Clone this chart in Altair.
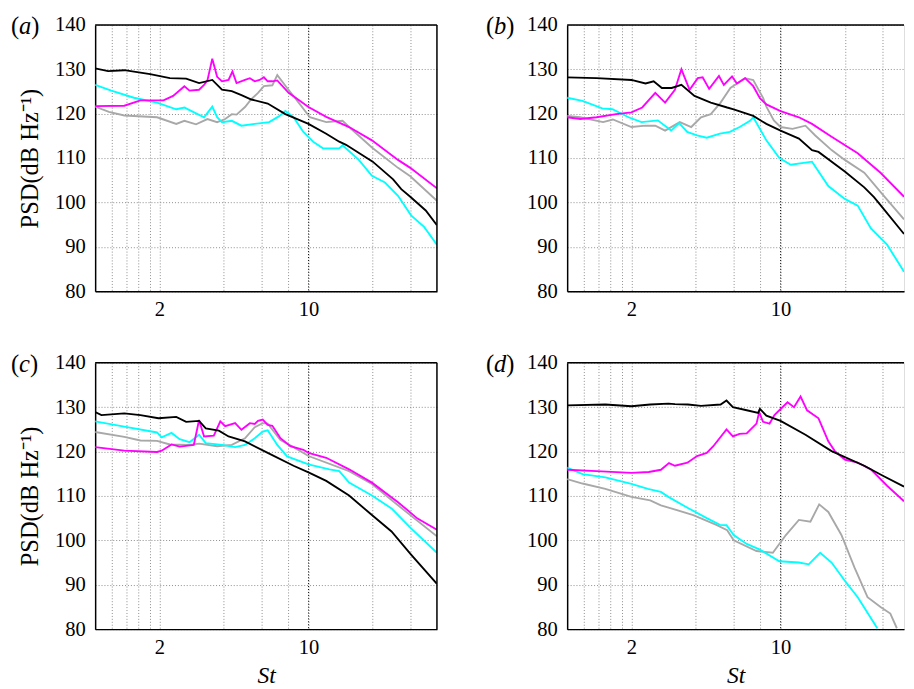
import altair as alt
import pandas as pd

# ---------------- data (St, PSD in dB/Hz) ----------------
# panel (a)
a_black_st = [1.0, 1.15, 1.37, 1.81, 2.24, 2.67, 3.07, 3.54, 3.93, 4.37, 4.85, 5.4, 6.44, 7.79, 10.0, 12.11, 13.94, 15.0, 20.0, 24.93, 27.22, 30.0, 35.45, 40.0]
a_black_psd = [130.2, 129.6, 129.8, 128.9, 128.0, 127.9, 126.9, 127.6, 125.4, 125.1, 124.2, 123.2, 122.3, 119.9, 117.7, 115.5, 113.7, 113.0, 109.2, 105.2, 103.0, 101.3, 98.2, 94.9]
a_magenta_st = [1.0, 1.37, 1.63, 2.09, 2.32, 2.62, 2.77, 3.07, 3.24, 3.36, 3.54, 3.73, 3.93, 4.22, 4.4, 4.6, 5.04, 5.31, 5.6, 5.9, 6.18, 6.44, 6.77, 7.14, 8.07, 10.0, 12.11, 15.5, 19.83, 26.28, 30.0, 40.0]
a_magenta_psd = [121.7, 121.8, 123.0, 123.0, 124.0, 126.2, 125.2, 125.4, 126.5, 127.5, 132.4, 128.3, 127.3, 127.6, 129.5, 126.9, 127.6, 128.0, 127.3, 127.6, 128.2, 127.3, 127.3, 127.5, 124.7, 121.5, 119.3, 117.0, 114.0, 109.6, 107.8, 103.2]
a_cyan_st = [1.0, 1.19, 1.52, 1.95, 2.4, 2.62, 2.77, 3.24, 3.54, 3.73, 3.93, 4.37, 4.85, 5.6, 6.54, 7.26, 7.79, 8.51, 9.46, 10.52, 11.69, 13.94, 14.44, 17.22, 19.83, 22.83, 26.28, 30.26, 34.83, 40.0]
a_cyan_psd = [126.5, 125.2, 123.6, 122.5, 121.0, 121.4, 120.8, 119.2, 121.6, 119.2, 118.1, 118.4, 117.3, 117.7, 118.1, 119.4, 120.6, 119.2, 115.9, 113.7, 112.2, 112.2, 112.9, 109.6, 106.0, 104.5, 101.5, 97.1, 94.5, 90.5]
a_gray_st = [1.0, 1.16, 1.37, 1.95, 2.4, 2.62, 2.97, 3.36, 3.73, 4.07, 4.37, 4.6, 5.04, 5.38, 5.8, 6.18, 6.77, 7.14, 7.94, 9.13, 10.15, 12.11, 14.44, 15.5, 19.83, 26.28, 30.0, 40.0]
a_gray_psd = [121.6, 120.4, 119.6, 119.2, 117.7, 118.4, 117.6, 118.8, 118.1, 118.8, 119.9, 119.8, 121.5, 123.2, 124.7, 126.2, 126.4, 128.7, 125.8, 122.1, 119.2, 118.1, 118.4, 117.0, 112.4, 107.8, 105.9, 100.4]

# panel (b)
b_black_st = [1.0, 1.373, 2.0, 2.329, 2.543, 2.778, 3.087, 3.43, 3.95, 4.71, 5.62, 6.03, 7.45, 8.58, 10.0, 12.19, 14.04, 15.06, 20.0, 24.67, 27.4, 30.0, 37.9]
b_black_psd = [128.2, 128.0, 127.6, 126.8, 127.3, 125.8, 125.8, 126.5, 124.0, 122.5, 121.4, 121.0, 119.5, 117.7, 116.2, 114.4, 111.8, 111.4, 107.0, 103.4, 101.2, 98.9, 92.9]
b_magenta_st = [1.0, 1.151, 1.373, 1.696, 2.0, 2.248, 2.588, 2.877, 3.198, 3.43, 3.747, 4.092, 4.313, 4.628, 5.143, 5.424, 5.923, 6.245, 6.82, 7.447, 8.0, 8.58, 10.0, 12.19, 14.04, 17.34, 22.99, 29.41, 37.9]
b_magenta_psd = [119.2, 118.8, 119.2, 119.9, 120.3, 121.4, 124.7, 122.5, 125.4, 130.0, 125.4, 128.0, 128.2, 125.6, 128.5, 126.5, 128.4, 126.8, 128.0, 126.2, 123.5, 122.1, 120.6, 119.2, 117.7, 114.8, 111.1, 106.7, 101.3]
b_cyan_st = [1.0, 1.18, 1.46, 1.63, 1.94, 2.23, 2.66, 3.07, 3.35, 3.65, 4.06, 4.51, 5.2, 5.79, 6.43, 7.19, 7.45, 8.58, 9.87, 11.17, 14.04, 16.74, 20.0, 22.99, 26.47, 31.56, 37.9]
b_cyan_psd = [123.6, 122.9, 121.2, 121.0, 119.2, 118.1, 118.5, 116.2, 117.9, 115.9, 115.1, 114.6, 115.5, 115.9, 117.0, 118.4, 119.2, 114.0, 110.0, 108.5, 109.2, 103.7, 100.8, 99.3, 94.2, 90.5, 84.4]
b_gray_st = [1.0, 1.151, 1.473, 1.637, 2.0, 2.329, 2.588, 2.877, 3.372, 3.814, 4.238, 4.71, 5.236, 5.82, 6.82, 7.447, 8.29, 8.58, 9.3, 10.0, 11.37, 13.08, 14.54, 17.34, 20.0, 24.67, 30.47, 37.9]
b_gray_psd = [119.5, 119.2, 118.1, 118.7, 117.0, 117.3, 117.3, 116.2, 118.1, 117.0, 119.2, 119.9, 122.5, 125.8, 128.0, 127.6, 123.5, 121.6, 118.5, 117.0, 116.6, 117.3, 115.1, 111.8, 109.6, 106.7, 101.5, 96.2]

# panel (c)
c_black_st = [1.0, 1.07, 1.37, 1.63, 1.98, 2.4, 2.67, 3.07, 3.3, 3.8, 4.22, 5.04, 6.44, 8.51, 10.0, 12.11, 15.5, 19.83, 24.5, 30.26, 40.0]
c_black_psd = [128.9, 128.2, 128.6, 128.2, 127.5, 127.8, 126.7, 126.9, 125.2, 124.7, 123.4, 122.3, 119.7, 116.8, 115.3, 113.4, 110.1, 105.7, 102.0, 96.8, 90.2]
c_magenta_st = [1.0, 1.37, 1.95, 2.05, 2.28, 2.49, 2.9, 3.07, 3.24, 3.6, 3.86, 4.07, 4.53, 4.85, 5.31, 5.6, 5.8, 6.1, 6.44, 6.77, 7.39, 8.22, 9.46, 10.0, 12.11, 15.5, 19.83, 26.28, 32.46, 40.0]
c_magenta_psd = [121.0, 120.2, 119.9, 120.2, 121.6, 121.1, 121.5, 127.1, 123.4, 123.6, 126.8, 125.7, 126.4, 124.9, 126.4, 126.2, 126.9, 127.2, 126.0, 125.8, 123.0, 121.2, 120.4, 119.7, 118.6, 116.0, 113.0, 108.6, 104.9, 102.4]
c_cyan_st = [1.0, 1.37, 1.95, 2.05, 2.28, 2.49, 2.77, 3.07, 3.3, 3.93, 4.53, 5.04, 5.6, 6.1, 6.44, 7.14, 7.94, 10.0, 12.54, 13.94, 15.5, 19.83, 24.5, 30.26, 40.0]
c_cyan_psd = [126.8, 125.6, 124.3, 123.2, 124.2, 122.8, 122.1, 123.8, 121.9, 121.5, 121.0, 121.5, 123.0, 124.5, 124.8, 121.5, 118.9, 117.1, 116.0, 115.6, 113.0, 110.1, 107.2, 102.7, 97.2]
c_gray_st = [1.0, 1.37, 1.63, 1.95, 2.24, 2.77, 3.07, 3.73, 4.37, 5.04, 5.6, 6.1, 6.44, 7.39, 8.51, 10.0, 15.5, 19.83, 26.28, 40.0]
c_gray_psd = [124.4, 123.3, 122.5, 122.4, 121.6, 121.5, 121.8, 121.2, 121.5, 123.0, 125.5, 126.4, 126.3, 122.6, 121.0, 119.0, 115.6, 112.7, 107.9, 100.9]

# panel (d)
d_black_st = [1.0, 1.51, 2.0, 2.45, 2.98, 3.2, 3.68, 4.238, 5.236, 5.58, 5.98, 6.94, 7.853, 8.0, 8.58, 10.0, 13.08, 17.34, 24.67, 30.0, 37.9]
d_black_psd = [130.4, 130.6, 130.2, 130.6, 130.8, 130.7, 130.6, 130.3, 130.6, 131.5, 130.0, 129.3, 128.7, 129.6, 128.1, 126.9, 123.8, 120.1, 116.8, 114.6, 112.1]
d_magenta_st = [1.0, 1.373, 2.0, 2.412, 2.75, 3.0, 3.2, 3.66, 4.06, 4.51, 4.84, 5.58, 5.98, 6.42, 6.94, 7.715, 7.94, 8.277, 8.88, 9.363, 9.87, 10.78, 11.56, 12.41, 13.31, 15.06, 16.74, 17.96, 20.0, 22.99, 26.47, 31.56, 37.9]
d_magenta_psd = [115.9, 115.6, 115.2, 115.4, 115.9, 117.4, 116.8, 117.5, 119.0, 119.7, 121.2, 125.0, 123.4, 124.0, 124.1, 126.3, 128.9, 126.7, 126.3, 128.2, 129.3, 131.1, 130.0, 132.4, 129.3, 127.5, 122.3, 120.1, 118.2, 117.5, 116.0, 112.3, 108.8]
d_cyan_st = [1.0, 1.18, 1.51, 2.0, 2.39, 2.75, 2.98, 3.68, 4.51, 5.2, 5.58, 6.03, 6.94, 8.0, 9.87, 12.19, 13.55, 15.33, 17.34, 20.0, 22.99, 28.4]
d_cyan_psd = [116.4, 114.9, 114.2, 112.7, 111.6, 110.9, 109.8, 107.3, 105.0, 103.5, 103.4, 101.2, 99.2, 97.9, 95.3, 95.0, 94.6, 97.2, 95.0, 90.9, 87.2, 80.2]
d_gray_st = [1.0, 1.18, 1.51, 2.0, 2.45, 2.75, 3.9, 5.0, 5.62, 6.03, 7.715, 9.2, 10.59, 12.19, 13.8, 15.17, 16.74, 19.28, 22.19, 25.56, 29.41, 32.69, 35.08]
d_gray_psd = [113.8, 112.8, 111.6, 109.8, 109.0, 107.9, 105.7, 103.5, 102.3, 100.0, 97.6, 97.2, 101.2, 104.6, 104.2, 108.1, 106.4, 101.2, 93.9, 87.2, 85.0, 83.5, 80.2]

grid_x = [1.2, 1.4, 1.6, 1.8, 2, 4, 6, 8, 10, 20, 30]
grid_y = [80, 90, 100, 110, 120, 130, 140]

COLORS = {"gray": "#a8a8a8", "cyan": "#00ffff", "magenta": "#ff00ff", "black": "#000000"}
SERIF = "Liberation Serif"


def panel(curves, xmax, letter, width, show_ytitle, show_xtitle, right_border):
    xs = alt.Scale(type="log", domain=[1, xmax], nice=False)
    ys = alt.Scale(domain=[80, 140], nice=False, zero=False)
    xaxis = alt.Axis(
        values=grid_x, grid=True, gridDash=[1, 2], gridColor="#8a8a8a", gridWidth=1,
        ticks=False, tickSize=0, domainColor="black", domainWidth=1.5,
        labelExpr="datum.value == 2 ? '2' : (datum.value == 10 ? '10' : '')",
        labelFont=SERIF, labelFontSize=21, labelColor="black", labelPadding=8,
        labelOverlap=False, labelFlush=False,
        title="St" if show_xtitle else "", titleFont=SERIF, titleFontSize=24,
        titleFontStyle="italic", titleFontWeight="normal", titleColor="black", titlePadding=7,
    )
    yaxis = alt.Axis(
        values=grid_y, grid=True, gridDash=[1, 2], gridColor="#8a8a8a", gridWidth=1,
        ticks=False, tickSize=0, domainColor="black", domainWidth=1.5,
        labelFont=SERIF, labelFontSize=21, labelColor="black", labelPadding=10,
        title="PSD(dB Hz⁻¹)" if show_ytitle else "", titleFont=SERIF, titleFontSize=25,
        titleFontWeight="normal", titleColor="black", titlePadding=12,
    )
    X = lambda f: alt.X(f, type="quantitative", scale=xs, axis=xaxis)
    Y = lambda f: alt.Y(f, type="quantitative", scale=ys, axis=yaxis)

    layers = []
    layers.append(
        alt.Chart(pd.DataFrame({"v": [10]})).mark_rule(color="black", strokeDash=[1, 2], strokeWidth=1).encode(x=X("v"))
    )
    for name in ["gray", "cyan", "magenta", "black"]:
        st, psd = curves[name]
        df = pd.DataFrame({"st": st, "psd": psd, "i": range(len(st))})
        layers.append(
            alt.Chart(df).mark_line(color=COLORS[name], strokeWidth=1.9, clip=True).encode(
                x=X("st"), y=Y("psd"), order="i:Q"
            )
        )
    layers.append(
        alt.Chart(pd.DataFrame({"v": [140]})).mark_rule(color="black", strokeWidth=1.5).encode(y=Y("v"))
    )
    if right_border:
        layers.append(
            alt.Chart(pd.DataFrame({"v": [xmax]})).mark_rule(color="black", strokeWidth=1.5).encode(x=X("v"))
        )
    lx = -86 if right_border else -83
    lw = {"a": 12.5, "b": 12.5, "c": 11.1, "d": 12.5}[letter]
    parts = [("(", "normal", lx), (letter, "italic", lx + 8.3), (")", "normal", lx + 8.3 + lw)]
    for txt, style, px in parts:
        layers.append(
            alt.Chart(pd.DataFrame({"t": [txt]})).mark_text(
                font=SERIF, fontSize=25, fontStyle=style, align="left", baseline="middle", color="black"
            ).encode(text="t:N", x=alt.value(px), y=alt.value(1))
        )
    return alt.layer(*layers).properties(width=width, height=272)


pa = panel({"black": (a_black_st, a_black_psd), "magenta": (a_magenta_st, a_magenta_psd),
            "cyan": (a_cyan_st, a_cyan_psd), "gray": (a_gray_st, a_gray_psd)}, 40, "a", 349, True, False, True)
pb = panel({"black": (b_black_st, b_black_psd), "magenta": (b_magenta_st, b_magenta_psd),
            "cyan": (b_cyan_st, b_cyan_psd), "gray": (b_gray_st, b_gray_psd)}, 37.9, "b", 344, False, False, False)
pc = panel({"black": (c_black_st, c_black_psd), "magenta": (c_magenta_st, c_magenta_psd),
            "cyan": (c_cyan_st, c_cyan_psd), "gray": (c_gray_st, c_gray_psd)}, 40, "c", 349, True, True, True)
pd_ = panel({"black": (d_black_st, d_black_psd), "magenta": (d_magenta_st, d_magenta_psd),
             "cyan": (d_cyan_st, d_cyan_psd), "gray": (d_gray_st, d_gray_psd)}, 37.9, "d", 344, False, True, False)

chart = alt.vconcat(
    alt.hconcat(pa, pb, spacing=47),
    alt.hconcat(pc, pd_, spacing=47),
    spacing=31,
).properties(padding={"left": 2, "top": -2, "right": 0, "bottom": 0}).configure_view(stroke=None).configure(background="white")

chart.save("out.html", embed_options={"renderer": "svg", "actions": False})
